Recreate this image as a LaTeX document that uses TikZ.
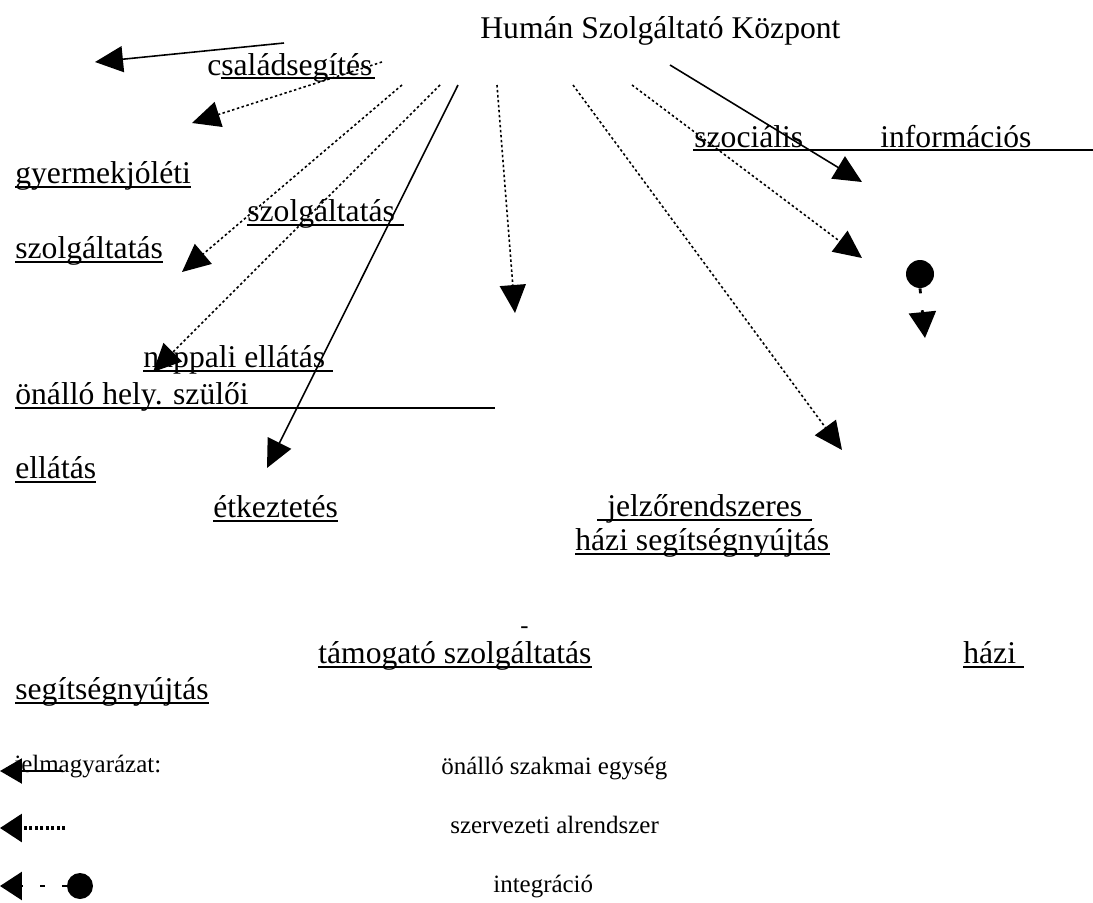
\documentclass[tikz,border=0pt]{standalone}
\usepackage{fontspec}
\setmainfont{Liberation Serif}
\usetikzlibrary{arrows.meta,calc}

\begin{document}
\begin{tikzpicture}[x=0.02cm, y=-0.02cm,
  txt/.style={anchor=base west, inner sep=0pt, font=\fontsize{18}{21}\selectfont},
  legtxt/.style={anchor=base west, inner sep=0pt, font=\fontsize{14.2}{17}\selectfont},
  uline/.style={line width=0.75pt},
  unit/.style={line width=0.9pt, -{Triangle[length=0.56cm, width=0.52cm]}},
  subsys/.style={line width=0.9pt, dash pattern=on 0.05cm off 0.05cm, -{Triangle[length=0.56cm, width=0.52cm]}},
  integ/.style={line width=1.6pt, dash pattern=on 0.1cm off 0.34cm, -{Triangle[length=0.52cm, width=0.54cm]}},
  intdot/.style={circle, fill, inner sep=0pt, minimum size=0.56cm}]

\useasboundingbox (0,0) rectangle (1093,903);

% TEXTS

\node[txt] (center) at (480,38) {Humán Szolgáltató Központ};

\node[txt] (csalad) at (207,75) {családsegítés};
\node[txt] (gyerm) at (15,183) {gyermekjóléti};
\node[txt] (szolgmid) at (247,221) {szolgáltatás};
\node[txt] (szolgleft) at (15,258) {szolgáltatás};
\node[txt] (szoc) at (694,147) {szociális};
\node[txt] (info) at (880,147) {információs};
\node[txt] (nappali) at (143,367) {nappali ellátás};
\node[txt] (onallo) at (15,404) {önálló hely. szülői};
\node[txt] (ellatas) at (15,478) {ellátás};
\node[txt] (etkez) at (213,517) {étkeztetés};
\node[txt] (jelzo) at (607,516) {jelzőrendszeres};
\node[txt] (hazijelzo) at (575,550) {házi segítségnyújtás};
\node[txt, font=\fontsize{14}{16}\selectfont] (kotojel) at (520,633) {-};
\node[txt] (tamogato) at (318,663) {támogató szolgáltatás};
\node[txt] (hazi) at (963,663) {házi};
\node[txt] (segitseg) at (15,699) {segítségnyújtás};

% UNDERLINES

\draw[uline] ($(csalad.base west)+(14,3)$) -- ($(csalad.base east)+(2,3)$);
\draw[uline] ($(gyerm.base west)+(0,4)$) -- ($(gyerm.base east)+(0,4)$);
\draw[uline] ($(szolgmid.base west)+(0,4)$) -- ($(szolgmid.base east)+(9,4)$);
\draw[uline] ($(szolgleft.base west)+(0,4)$) -- ($(szolgleft.base east)+(0,4)$);
\draw[uline] ($(szoc.base west)+(-1,3)$) -- (1093,150);
\draw[uline] ($(nappali.base west)+(0,4)$) -- ($(nappali.base east)+(8,4)$);
\draw[uline] ($(onallo.base west)+(0,4)$) -- (495,408);
\draw[uline] ($(ellatas.base west)+(0,4)$) -- ($(ellatas.base east)+(0,4)$);
\draw[uline] ($(etkez.base west)+(0,4)$) -- ($(etkez.base east)+(0,4)$);
\draw[uline] ($(jelzo.base west)+(-10,4)$) -- ($(jelzo.base east)+(9,4)$);
\draw[uline] ($(hazijelzo.base west)+(0,4)$) -- ($(hazijelzo.base east)+(0,4)$);
\draw[uline] ($(tamogato.base west)+(0,4)$) -- ($(tamogato.base east)+(0,4)$);
\draw[uline] ($(hazi.base west)+(0,4)$) -- ($(hazi.base east)+(8,4)$);
\draw[uline] ($(segitseg.base west)+(0,4)$) -- ($(segitseg.base east)+(0,4)$);

% ARROWS

\coordinate (from1) at (284,43);  \coordinate (to1) at (95,62);
\coordinate (from2) at (382,62);  \coordinate (to2) at (192,123);
\coordinate (from3) at (402,85);  \coordinate (to3) at (182,272);
\coordinate (from4) at (440,85);  \coordinate (to4) at (153,372);
\coordinate (from5) at (458,85);  \coordinate (to5) at (267,468);
\coordinate (from6) at (497,85);  \coordinate (to6) at (515,313);
\coordinate (from7) at (573,85);  \coordinate (to7) at (842,450);
\coordinate (from8) at (632,85);  \coordinate (to8) at (862,258);
\coordinate (from9) at (670,65);  \coordinate (to9) at (862,182);

\draw[unit] (from1) -- (to1);
\draw[subsys] (from2) -- (to2);
\draw[subsys] (from3) -- (to3);
\draw[subsys] (from4) -- (to4);
\draw[unit] (from5) -- (to5);
\draw[subsys] (from6) -- (to6);
\draw[subsys] (from7) -- (to7);
\draw[subsys] (from8) -- (to8);
\draw[unit] (from9) -- (to9);

\node[intdot] (infodot) at (920,274) {};
\coordinate (infotip) at (925,338);
\draw[integ] (infodot.south) -- (infotip);

% LEGEND

\node[legtxt] (jelmagy) at (14,772) {jelmagyarázat:};
\node[legtxt] (onszak) at (441,774) {önálló szakmai egység};
\node[legtxt] (szervez) at (450,833) {szervezeti alrendszer};
\node[legtxt] (integr) at (493,892) {integráció};

\coordinate (leg1from) at (63,771);  \coordinate (leg1to) at (0,771);
\coordinate (leg2from) at (65,828);  \coordinate (leg2to) at (0,828);
\node[intdot, minimum size=0.52cm] (legdot) at (80,886) {};
\coordinate (leg3to) at (0,886);

\draw[line width=1.3pt, -{Triangle[length=0.44cm, width=0.5cm]}] (leg1from) -- (leg1to);
\draw[line width=1.8pt, dash pattern=on 0.06cm off 0.05cm, -{Triangle[length=0.44cm, width=0.56cm]}] (leg2from) -- (leg2to);
\draw[integ, -{Triangle[length=0.44cm, width=0.56cm]}] (legdot.west) -- (leg3to);

\end{tikzpicture}
\end{document}
